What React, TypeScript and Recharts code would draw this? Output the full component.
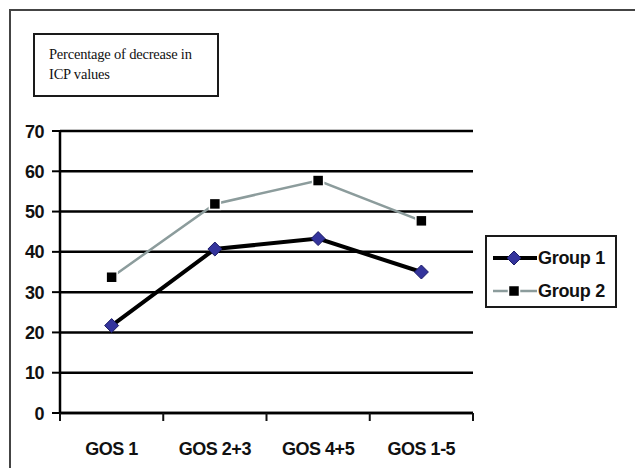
import React from 'react';
import { LineChart, Line, XAxis, YAxis, CartesianGrid, Legend } from 'recharts';

const categories = ['GOS 1', 'GOS 2+3', 'GOS 4+5', 'GOS 1-5'];
const group1 = [21.7, 40.7, 43.3, 35.0];
const group2 = [33.7, 51.9, 57.7, 47.7];
const yTicks = [0, 10, 20, 30, 40, 50, 60, 70];
const titleLines = ['Percentage of decrease in', 'ICP values'];
const seriesNames = ['Group 1', 'Group 2'];

const data = categories.map((c, i) => ({ name: c, g1: group1[i], g2: group2[i] }));

const FONT = 'Arial, "Liberation Sans", Helvetica, sans-serif';

const DiamondDot = (props: any) => {
  const { cx, cy, index } = props;
  if (cx == null || cy == null) return <g key={`d${index}`} />;
  const r = 7;
  return (
    <path
      key={`d${index}`}
      d={`M${cx},${cy - r} L${cx + r},${cy} L${cx},${cy + r} L${cx - r},${cy} Z`}
      fill="#34349c"
      stroke="#1c1c66"
      strokeWidth={1}
    />
  );
};

const SquareDot = (props: any) => {
  const { cx, cy, index } = props;
  if (cx == null || cy == null) return <g key={`s${index}`} />;
  const h = 5.5;
  return (
    <rect
      key={`s${index}`}
      x={cx - h}
      y={cy - h}
      width={h * 2}
      height={h * 2}
      fill="#000"
      stroke="#fff"
      strokeWidth={1.5}
    />
  );
};

const YTick = (props: any) => {
  const { x, y, payload } = props;
  return (
    <text
      x={x}
      y={y + 6.5}
      textAnchor="end"
      fontFamily={FONT}
      fontWeight="bold"
      fontSize={18}
      letterSpacing={-0.5}
      fill="#111"
    >
      {payload.value}
    </text>
  );
};

const XTick = (props: any) => {
  const { x, y, payload, index, width, visibleTicksCount } = props;
  const bw = width && visibleTicksCount ? width / visibleTicksCount : 103.25;
  const left = x - bw / 2;
  const right = x + bw / 2;
  const last = visibleTicksCount ? index === visibleTicksCount - 1 : index === categories.length - 1;
  return (
    <g>
      <line x1={left} y1={y} x2={left} y2={y + 8} stroke="#111" strokeWidth={2} />
      {last && <line x1={right} y1={y} x2={right} y2={y + 8} stroke="#111" strokeWidth={2} />}
      <text
        x={x}
        y={y + 42}
        textAnchor="middle"
        fontFamily={FONT}
        fontWeight="bold"
        fontSize={18}
        letterSpacing={-0.5}
        fill="#111"
      >
        {payload.value}
      </text>
    </g>
  );
};

const LegendContent = (props: any) => {
  const payload = props.payload || [];
  const ordered = [...payload].sort((a: any, b: any) => (a.dataKey > b.dataKey ? 1 : -1));
  return (
    <div
      style={{
        boxSizing: 'border-box',
        width: 132,
        height: 73,
        border: '2px solid #1a1a1a',
        background: '#fff',
        paddingTop: 4,
        paddingLeft: 4,
      }}
    >
      {ordered.map((entry: any, i: number) => {
        const isG1 = entry.dataKey === 'g1';
        return (
          <div key={i} style={{ display: 'flex', alignItems: 'center', height: 33 }}>
            <svg width={46} height={16} style={{ display: 'block' }}>
              <line
                x1={2}
                y1={8}
                x2={46}
                y2={8}
                stroke={isG1 ? '#000' : '#8c9c9c'}
                strokeWidth={isG1 ? 4 : 2.5}
              />
              {isG1 ? (
                <path d="M23,1 L30,8 L23,15 L16,8 Z" fill="#34349c" stroke="#1c1c66" strokeWidth={1} />
              ) : (
                <rect x={17.5} y={2.5} width={11} height={11} fill="#000" stroke="#fff" strokeWidth={1.5} />
              )}
            </svg>
            <span
              style={{
                fontFamily: FONT,
                fontWeight: 'bold',
                fontSize: 18,
                letterSpacing: -0.3,
                color: '#111',
                marginLeft: 1,
                lineHeight: '18px',
              }}
            >
              {entry.value}
            </span>
          </div>
        );
      })}
    </div>
  );
};

export default function App() {
  return (
    <div style={{ position: 'absolute', left: 0, top: 0, width: 635, height: 468, background: '#fff', overflow: 'hidden' }}>
      <div
        style={{
          position: 'absolute',
          left: 9,
          top: 9,
          width: 626,
          height: 459,
          boxSizing: 'border-box',
          borderLeft: '2px solid #444',
          borderTop: '2px solid #444',
        }}
      />
      <div
        style={{
          position: 'absolute',
          left: 33,
          top: 33,
          width: 186,
          height: 64,
          boxSizing: 'border-box',
          border: '2px solid #1a1a1a',
          paddingLeft: 14,
          paddingTop: 9,
          fontFamily: '"Liberation Serif", "Times New Roman", serif',
          fontSize: 14.5,
          lineHeight: '20px',
          color: '#111',
          letterSpacing: -0.2,
        }}
      >
        {titleLines.map((t, i) => (
          <div key={i} style={{ whiteSpace: 'nowrap' }}>{t}</div>
        ))}
      </div>
      <div style={{ position: 'absolute', left: 0, top: 0 }}>
        <LineChart width={635} height={468} data={data} margin={{ top: 131, right: 162, bottom: 25, left: 0 }}>
          <CartesianGrid vertical={false} stroke="#000" strokeWidth={2.5} />
          <XAxis
            dataKey="name"
            scale="band"
            height={30}
            axisLine={{ stroke: '#000', strokeWidth: 2.5 }}
            tickLine={false}
            tickSize={0}
            tickMargin={0}
            tick={<XTick />}
            interval={0}
          />
          <YAxis
            type="number"
            domain={[0, 70]}
            ticks={yTicks}
            width={60}
            axisLine={{ stroke: '#000', strokeWidth: 2.5 }}
            tickLine={{ stroke: '#000', strokeWidth: 2 }}
            tickSize={8}
            tickMargin={8}
            tick={<YTick />}
            interval={0}
          />
          <YAxis
            yAxisId="right"
            orientation="right"
            type="number"
            domain={[0, 70]}
            width={0}
            tick={false}
            tickLine={false}
            axisLine={{ stroke: '#222', strokeWidth: 1.5 }}
          />
          <Legend
            layout="vertical"
            align="center"
            verticalAlign="middle"
            content={<LegendContent />}
            wrapperStyle={{ position: 'absolute', left: 485, top: 235, width: 132, height: 73 }}
          />
          <Line
            dataKey="g2"
            name={seriesNames[1]}
            stroke="#8c9c9c"
            strokeWidth={2.5}
            dot={SquareDot}
            activeDot={false}
            isAnimationActive={false}
          />
          <Line
            dataKey="g1"
            name={seriesNames[0]}
            stroke="#000"
            strokeWidth={4}
            dot={DiamondDot}
            activeDot={false}
            isAnimationActive={false}
          />
        </LineChart>
      </div>
    </div>
  );
}
